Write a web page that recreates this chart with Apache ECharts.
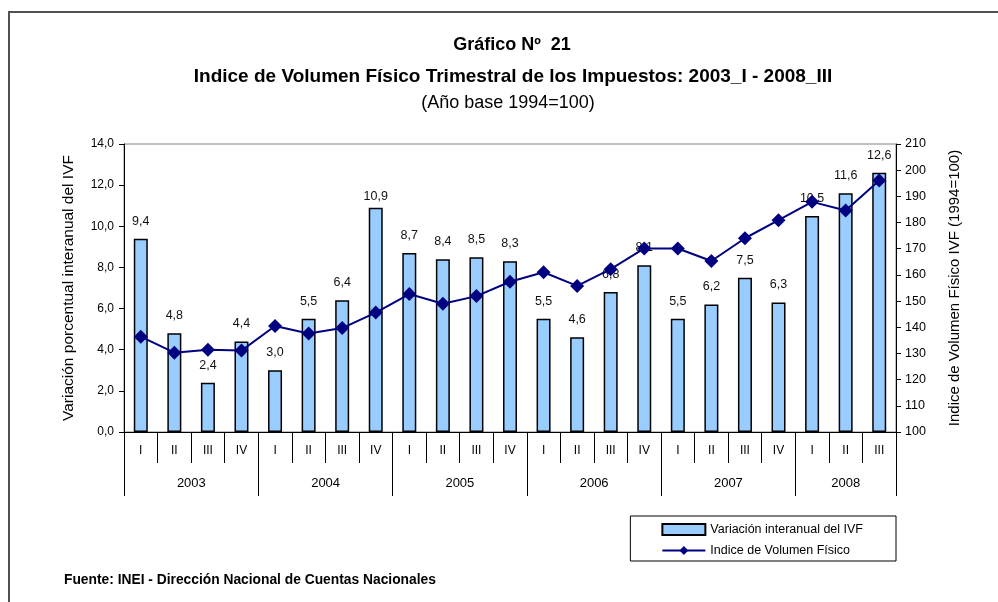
<!DOCTYPE html>
<html>
<head>
<meta charset="utf-8">
<script src="https://cdn.jsdelivr.net/npm/echarts@6/dist/echarts.min.js"></script>
<style>
  html, body { margin: 0; padding: 0; background: #fff; }
  #frame { position: absolute; left: 8px; top: 11px; width: 990px; height: 591px;
           border-left: 2px solid #505050; border-top: 2px solid #505050; }
  #chart { position: absolute; left: 0; top: 0; width: 998px; height: 602px; }
</style>
</head>
<body>
<div id="frame"></div>
<div id="chart"></div>
<script>
// trimestres 2003_I - 2008_III
var quarters = ['I','II','III','IV','I','II','III','IV','I','II','III','IV',
                'I','II','III','IV','I','II','III','IV','I','II','III'];
var years = ['2003','2004','2005','2006','2007','2008'];
var quartersPerYear = [4, 4, 4, 4, 4, 3];

// variación porcentual interanual del IVF (eje izquierdo)
var variacion = [9.4, 4.8, 2.4, 4.4, 3.0, 5.5, 6.4, 10.9, 8.7, 8.4, 8.5, 8.3,
                 5.5, 4.6, 6.8, 8.1, 5.5, 6.2, 7.5, 6.3, 10.5, 11.6, 12.6];

// indice de volumen fisico (eje derecho)
var indice = [136.4, 130.3, 131.4, 131.1, 140.5, 137.6, 139.7, 145.6, 152.7, 149.0, 151.9, 157.4,
              161.0, 155.8, 162.2, 170.1, 170.1, 165.3, 174.0, 180.9, 187.9, 184.6, 196.1];

var FONT = '"Liberation Sans", Arial, sans-serif';

// categoria de año por trimestre, y donde va la etiqueta / el separador
var yearCats = [];
var yearStart = {};
var yearLabelAt = {};
years.forEach(function (y, i) {
    var start = yearCats.length;
    yearStart[start] = true;
    yearLabelAt[start + Math.floor((quartersPerYear[i] - 1) / 2)] = quartersPerYear[i] % 2 === 0 ? 'e' : 'o';
    for (var k = 0; k < quartersPerYear[i]; k++) yearCats.push(y);
});

function coma(v) {
    return v.toFixed(1).replace('.', ',');
}

// la etiqueta de 2004_IV esta mas pegada a la barra
var barData = variacion.map(function (v, i) {
    return i === 7 ? { value: v, label: { distance: 5 } } : v;
});

var option = {
    animation: false,
    textStyle: { fontFamily: FONT },
    title: [{
        text: 'Gráfico Nº  21',
        left: 507, top: 31, textAlign: 'center',
        textStyle: { fontFamily: FONT, fontSize: 18, fontWeight: 'bold', color: '#000' }
    }, {
        text: 'Indice de Volumen Físico Trimestral de los Impuestos: 2003_I - 2008_III',
        left: 508, top: 62, textAlign: 'center',
        textStyle: { fontFamily: FONT, fontSize: 19, fontWeight: 'bold', color: '#000' }
    }, {
        text: '(Año base 1994=100)',
        left: 503, top: 89, textAlign: 'center',
        textStyle: { fontFamily: FONT, fontSize: 18, fontWeight: 'normal', color: '#000' }
    }, {
        text: 'Fuente: INEI - Dirección Nacional de Cuentas Nacionales',
        left: 59, top: 568,
        textStyle: { fontFamily: FONT, fontSize: 13.8, fontWeight: 'bold', color: '#000' }
    }],
    legend: {
        orient: 'vertical',
        right: 102, top: 516,
        borderColor: '#000', borderWidth: 1, borderRadius: 0,
        padding: [7, 33, 4, 31],
        itemWidth: 43, itemHeight: 11, itemGap: 8,
        textStyle: { fontFamily: FONT, fontSize: 12.5, color: '#000' },
        data: [
            { name: 'Variación interanual del IVF', icon: 'rect' },
            { name: 'Indice de Volumen Físico' }
        ]
    },
    grid: {
        left: 124, right: 102, top: 144, bottom: 170,
        show: true, borderColor: '#808080', borderWidth: 1
    },
    xAxis: [{
        type: 'category',
        data: quarters,
        position: 'bottom',
        axisLine: { show: true, lineStyle: { color: '#000', width: 1 } },
        axisTick: { show: true, interval: 0, length: 31, lineStyle: { color: '#000', width: 1 } },
        axisLabel: { interval: 0, margin: 13, fontSize: 12, color: '#000', fontFamily: FONT }
    }, {
        type: 'category',
        data: yearCats,
        position: 'bottom',
        axisLine: { show: false },
        axisTick: {
            show: true,
            interval: function (idx) { return !!yearStart[idx]; },
            length: 64, lineStyle: { color: '#000', width: 1 }
        },
        axisLabel: {
            interval: function (idx) { return !!yearLabelAt[idx]; },
            formatter: function (v, idx) { return '{' + yearLabelAt[idx] + '|' + v + '}'; },
            margin: 45, fontSize: 13, color: '#000', fontFamily: FONT,
            rich: {
                e: { padding: [0, 0, 0, 34], fontSize: 13, color: '#000', fontFamily: FONT },
                o: { fontSize: 13, color: '#000', fontFamily: FONT }
            }
        }
    }],
    yAxis: [{
        type: 'value',
        min: 0, max: 14, interval: 2,
        name: 'Variación porcentual interanual del IVF',
        nameLocation: 'middle', nameGap: 47, nameRotate: 90,
        nameTextStyle: { fontFamily: FONT, fontSize: 15.5, color: '#000' },
        axisLine: { show: true, lineStyle: { color: '#000', width: 1 } },
        axisTick: { show: true, length: 5, lineStyle: { color: '#000' } },
        axisLabel: { formatter: coma, margin: 10, fontSize: 12, color: '#000', fontFamily: FONT },
        splitLine: { show: false }
    }, {
        type: 'value',
        min: 100, max: 210, interval: 10,
        name: 'Indice de Volumen Físico IVF (1994=100)',
        nameLocation: 'middle', nameGap: 51, nameRotate: 90,
        nameTextStyle: { fontFamily: FONT, fontSize: 15, color: '#000' },
        axisLine: { show: true, lineStyle: { color: '#000', width: 1 } },
        axisTick: { show: true, length: 5, lineStyle: { color: '#000' } },
        axisLabel: { margin: 9, fontSize: 12.5, color: '#000', fontFamily: FONT },
        splitLine: { show: false }
    }],
    series: [{
        name: 'Variación interanual del IVF',
        type: 'bar',
        xAxisIndex: 0,
        yAxisIndex: 0,
        barWidth: 14,
        data: barData,
        itemStyle: { color: '#99ccff', borderColor: '#000', borderWidth: 1.5 },
        label: {
            show: true, position: 'top', distance: 11,
            formatter: function (p) { return coma(p.value); },
            fontSize: 12.5, color: '#111', fontFamily: FONT
        }
    }, {
        name: 'Indice de Volumen Físico',
        type: 'line',
        xAxisIndex: 0,
        yAxisIndex: 1,
        data: indice,
        symbol: 'diamond',
        symbolSize: 14,
        lineStyle: { color: '#000080', width: 2 },
        itemStyle: { color: '#000080' }
    }]
};

var mychart = echarts.init(document.getElementById('chart'));
mychart.setOption(option);
</script>
</body>
</html>
